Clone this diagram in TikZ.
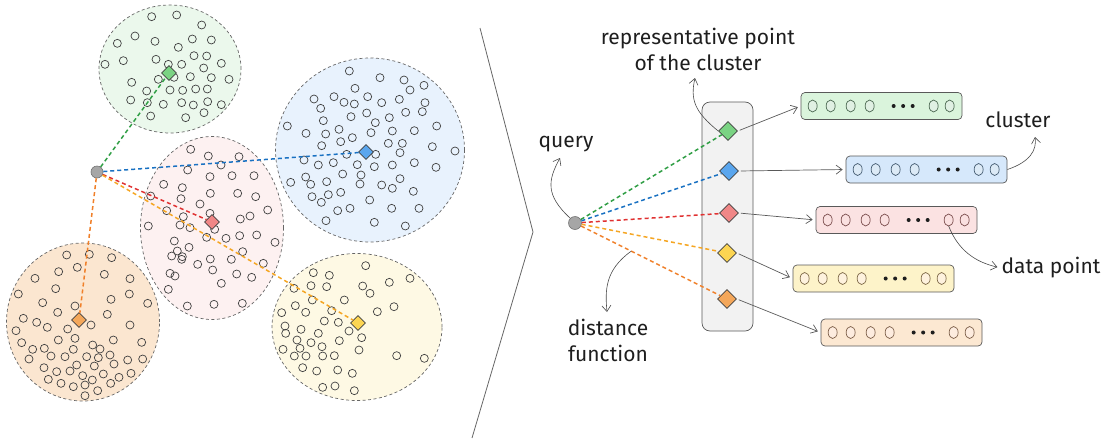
\documentclass[tikz,border=0pt]{standalone}
\usepackage{fontspec}
\setmainfont{Fira Sans}
\usetikzlibrary{shapes.geometric,arrows.meta,calc}

\definecolor{ink}{HTML}{1E1E1E}
\definecolor{gline}{HTML}{2F9E44}
\definecolor{bline}{HTML}{1971C2}
\definecolor{rline}{HTML}{E03131}
\definecolor{yline}{HTML}{F5A623}
\definecolor{oline}{HTML}{F0802A}
\definecolor{gdia}{HTML}{7AD383}
\definecolor{bdia}{HTML}{5AA6EE}
\definecolor{rdia}{HTML}{F08787}
\definecolor{ydia}{HTML}{FCD552}
\definecolor{odia}{HTML}{F4A75A}
\definecolor{gfill}{HTML}{EBF8EC}
\definecolor{bfill}{HTML}{E8F2FD}
\definecolor{rfill}{HTML}{FDF1F1}
\definecolor{yfill}{HTML}{FEF9E4}
\definecolor{ofill}{HTML}{FBE6D0}
\definecolor{gbar}{HTML}{DAF4DC}
\definecolor{bbar}{HTML}{D6E8FB}
\definecolor{rbar}{HTML}{FBE2E2}
\definecolor{ybar}{HTML}{FDF3C9}
\definecolor{obar}{HTML}{FCE8D2}

\tikzset{
  clus/.style={ellipse,draw=black!60,dash pattern=on 3pt off 2.5pt,line width=.7pt,inner sep=0},
  ptdot/.style={circle,draw=black!75,line width=.7pt,minimum size=8pt,inner sep=0},
  repdiamond/.style={diamond,draw=black!75,line width=.7pt,inner sep=0,minimum size=#1},
  querydot/.style={circle,draw=black!55,fill=black!35,line width=.6pt,minimum size=#1,inner sep=0},
  distline/.style={line width=1.5pt,dash pattern=on 4pt off 3pt},
  clusterbar/.style={rectangle,rounded corners=4pt,draw=black!65,line width=.7pt,minimum width=161pt,minimum height=27pt,inner sep=0},
  linkarrow/.style={draw=black!65,line width=.7pt,-{Straight Barb[length=6pt,width=9pt]},shorten >=3pt,shorten <=2pt},
  notearrow/.style={draw=black!70,line width=.6pt,-{Straight Barb[length=6pt,width=9pt]}},
  note/.style={text=ink,font=\fontsize{21}{26}\selectfont,align=center,inner sep=0}
}

\begin{document}
\begin{tikzpicture}[x=1pt,y=-1pt]
  \useasboundingbox (0,0) rectangle (1110,442);

  % clusters on the left
  \node[clus,fill=gfill,minimum width=142pt,minimum height=128pt] (cg) at (170,69) {};
  \node[clus,fill=bfill,minimum width=189pt,minimum height=184pt] (cb) at (370,150) {};
  \node[clus,fill=rfill,minimum width=143pt,minimum height=183pt] (cr) at (212,228) {};
  \node[clus,fill=ofill,minimum width=153pt,minimum height=158pt] (co) at (83,322) {};
  \node[clus,fill=yfill,minimum width=170pt,minimum height=147pt] (cy) at (357,327) {};

  \foreach \x/\y [count=\i] in {455/50,530/45,605/75,405/108,352/130,465/124,577/117,634/120,535/142,315/193,370/182,468/178,505/193,545/193,582/167,620/168,664/190,611/204,571/230,634/233,687/238,395/247,475/238,522/232,440/273,510/270,548/271,587/267,622/267,392/300,442/308,490/313,545/308,580/315,623/305,664/314,452/348,557/353,612/338}
    \node[ptdot] (g\i) at (\x/3,\y/3) {};
  \foreach \x/\y [count=\i] in {1048/213,1140/233,1212/240,1272/256,1230/270,1065/265,1103/290,1002/290,942/297,1032/307,1063/312,1145/308,1198/298,1275/308,962/325,1217/337,1267/335,1100/339,1053/350,1168/353,970/362,1126/368,862/378,1310/378,918/400,977/402,1017/388,1113/398,1177/393,1243/392,1057/413,1022/425,965/437,1165/430,1207/430,1297/440,1365/453,1127/463,1200/458,1040/463,912/480,955/495,1000/488,1072/494,1123/500,1177/495,1243/488,1308/502,1028/522,1083/525,917/531,872/547,932/553,980/545,1080/552,1145/555,1177/565,1200/536,1022/577,936/590,964/607,985/584,1109/600,1240/574,1013/632,1050/625,1175/625,1257/625,978/662,1123/667,1216/678}
    \node[ptdot] (b\i) at (\x/3,\y/3) {};
  \foreach \x/\y [count=\i] in {572/448,625/468,717/470,663/495,563/510,630/530,696/527,762/527,491/553,547/563,543/596,631/580,713/580,767/590,600/612,452/588,630/640,803/630,500/632,550/650,721/657,750/648,445/678,540/675,570/683,644/688,620/712,678/715,719/707,770/705,825/727,523/723,567/742,532/753,515/768,547/770,545/778,631/777,694/778,728/755,790/790,593/793,638/810,710/822,755/832,510/820,525/828,505/868,664/850,562/918,642/913,727/910}
    \node[ptdot] (r\i) at (\x/3,\y/3) {};
  \foreach \x/\y [count=\i] in {200/765,268/763,335/773,232/802,176/815,105/835,313/823,390/836,167/866,55/882,128/908,333/898,388/882,443/910,225/918,173/937,322/943,70/955,110/967,142/982,203/987,273/975,390/975,48/992,65/1028,175/1020,225/1015,340/1020,425/1027,98/1048,133/1045,153/1068,195/1070,220/1048,260/1070,278/1035,300/1047,295/1073,330/1065,87/1077,383/1080,428/1077,132/1103,170/1115,210/1113,230/1095,283/1098,342/1092,145/1138,183/1150,220/1160,248/1127,255/1155,277/1140,310/1122,332/1150,357/1132,393/1120,255/1187,293/1172}
    \node[ptdot] (o\i) at (\x/3,\y/3) {};
  \foreach \x/\y [count=\i] in {1097/797,940/818,988/826,1168/847,1230/835,882/865,933/857,980/860,1088/858,1110/880,1033/900,937/900,886/917,917/937,995/932,1132/935,1182/920,845/938,855/978,973/963,1015/967,857/1000,903/988,955/1000,1047/993,1085/1013,891/1020,933/1028,1018/1022,849/1048,900/1045,966/1040,883/1068,918/1068,968/1068,1003/1067,1077/1050,1190/1067,1273/1075,908/1103,950/1113,1013/1110,1057/1120,968/1162,1005/1158,1063/1172}
    \node[ptdot] (y\i) at (\x/3,\y/3) {};

  \node[querydot=12pt] (qL) at (97,172) {};
  \node[repdiamond=15pt,fill=gdia] (gL) at (169,73) {};
  \node[repdiamond=15pt,fill=bdia] (bL) at (366,152) {};
  \node[repdiamond=15pt,fill=rdia] (rL) at (212,222) {};
  \node[repdiamond=15pt,fill=odia] (oL) at (79,320) {};
  \node[repdiamond=15pt,fill=ydia] (yL) at (358,323) {};

  \draw[distline,gline] (qL) -- (gL);
  \draw[distline,bline] (qL) -- (bL);
  \draw[distline,rline] (qL) -- (rL);
  \draw[distline,yline] (qL) -- (yL);
  \draw[distline,oline] (qL) -- (oL);

  % separator
  \draw[black!60,line width=.8pt] (480,28) -- (533,232) -- (472,438);

  % right side
  \node[rectangle,rounded corners=8pt,draw=black!65,fill=black!5,line width=.7pt,minimum width=51pt,minimum height=229pt] (col) at (727.5,216.5) {};

  \node[querydot=13pt] (qR) at (575,223) {};
  \node[repdiamond=19pt,fill=gdia] (gR) at (728,131) {};
  \node[repdiamond=19pt,fill=bdia] (bR) at (729,171) {};
  \node[repdiamond=19pt,fill=rdia] (rR) at (729,213) {};
  \node[repdiamond=19pt,fill=ydia] (yR) at (727,253) {};
  \node[repdiamond=19pt,fill=odia] (oR) at (727,299) {};

  \draw[distline,gline] (qR) -- (gR);
  \draw[distline,bline] (qR) -- (bR);
  \draw[distline,rline] (qR) -- (rR);
  \draw[distline,yline] (qR) -- (yR);
  \draw[distline,oline] (qR) -- (oR) coordinate[pos=.36] (df);

  \node[clusterbar,fill=gbar] (gB) at (881.5,106) {};
  \node[clusterbar,fill=bbar] (bB) at (926.5,169.5) {};
  \node[clusterbar,fill=rbar] (rB) at (896.5,220) {};
  \node[clusterbar,fill=ybar] (yB) at (873.5,278.5) {};
  \node[clusterbar,fill=obar] (oB) at (901.5,332.5) {};

  \foreach \n/\c in {gB/gline,bB/bline,rB/rline,yB/yline,oB/oline} {
    \foreach \dx in {12,30,50,69,133,149}
      \draw[draw=\c!35!black!75,fill=\c!15,line width=.7pt] ($(\n.west)+(\dx,0)$) ellipse (4.5 and 6);
    \foreach \dx in {93,102.5,112}
      \fill[ink] ($(\n.west)+(\dx,0)$) circle (2);
  }

  \draw[linkarrow] (gR.east) -- (gB.west);
  \draw[linkarrow] (bR.east) -- (bB.west);
  \draw[linkarrow] (rR.east) -- (rB.west);
  \draw[linkarrow] (yR.east) -- (yB.west);
  \draw[linkarrow] (oR.east) -- (oB.west);

  % labels
  \node[note] (repl) at (698,49) {representative point\\of the cluster};
  \node[note] (ql) at (566,144) {query};
  \node[note] (dl) at (608,340) {distance\\function};
  \node[note] (cl) at (1018,120) {cluster};
  \node[note] (dpl) at (1051,268) {data point};

  \draw[notearrow] (gR.west) .. controls (695,112) and (690,100) .. (695,78);
  \draw[notearrow] (qR.north west) .. controls (545,195) and (548,180) .. (560,158);
  \draw[notearrow] (df) .. controls (605,270) and (605,290) .. (607,312);
  \draw[notearrow] (bB.east) .. controls (1030,162) and (1037,150) .. (1035,137);
  \draw[notearrow,shorten >=4pt] ($(rB.west)+(133,6)$) .. controls (958,250) and (975,262) .. (dpl.west);
\end{tikzpicture}
\end{document}
